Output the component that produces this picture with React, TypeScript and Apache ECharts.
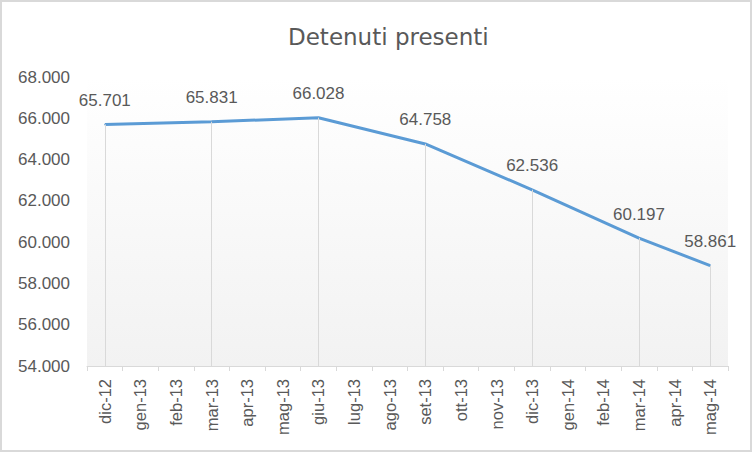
import React, { useEffect, useRef } from "react";
import * as echarts from "echarts";

const categories = [
  "dic-12", "gen-13", "feb-13", "mar-13", "apr-13", "mag-13", "giu-13", "lug-13", "ago-13",
  "set-13", "ott-13", "nov-13", "dic-13", "gen-14", "feb-14", "mar-14", "apr-14", "mag-14",
];
const detenuti: (number | null)[] = [
  65701, null, null, 65831, null, null, 66028, null, null,
  64758, null, null, 62536, null, null, 60197, null, 58861,
];
const yMin = 54000;
const yMax = 68000;
const yStep = 2000;

const fmt = (v: number) => {
  const t = Math.floor(v / 1000);
  const r = String(Math.round(v % 1000)).padStart(3, "0");
  return `${t}.${r}`;
};

const FONT = "Liberation Sans";
const TXT = "#595959";

export default function App() {
  const ref = useRef<HTMLDivElement>(null);
  useEffect(() => {
    document.body.style.margin = "0";
    const chart = echarts.init(ref.current!, undefined, { renderer: "svg" });
    const drops = detenuti
      .map((v, i) =>
        v == null ? null : [{ coord: [categories[i], yMin] }, { coord: [categories[i], v] }]
      )
      .filter((d) => d != null);
    chart.setOption({
      animation: false,
      backgroundColor: "#ffffff",
      textStyle: { fontFamily: FONT },
      title: {
        text: "Detenuti presenti",
        left: 283,
        top: 20,
        textStyle: { fontSize: 23, fontWeight: "normal", color: TXT, fontFamily: "DejaVu Sans" },
      },
      graphic: [
        {
          type: "rect",
          shape: { x: 1, y: 1, width: 750, height: 450 },
          style: { fill: "none", stroke: "#d9d9d9", lineWidth: 2 },
          silent: true,
          z: 100,
        },
      ],
      grid: {
        left: 87,
        right: 24,
        top: 77,
        bottom: 86,
        show: true,
        borderWidth: 0,
        backgroundColor: new echarts.graphic.LinearGradient(0, 0, 0, 1, [
          { offset: 0, color: "#ffffff" },
          { offset: 1, color: "#f2f2f2" },
        ]),
      },
      xAxis: {
        type: "category",
        data: categories,
        boundaryGap: true,
        axisLine: { lineStyle: { color: "#d9d9d9", width: 1 } },
        axisTick: { show: true, length: 5, alignWithLabel: false, lineStyle: { color: "#d9d9d9" } },
        axisLabel: { rotate: 90, color: TXT, fontSize: 16.5, margin: 13, fontFamily: FONT, interval: 0 },
        splitLine: { show: false },
      },
      yAxis: {
        type: "value",
        min: yMin,
        max: yMax,
        interval: yStep,
        axisLine: { show: false },
        axisTick: { show: false },
        splitLine: { show: false },
        axisLabel: { color: TXT, fontSize: 17, margin: 17, fontFamily: FONT, formatter: (v: number) => fmt(v) },
      },
      series: [
        {
          type: "line",
          data: [],
          z: 1,
          silent: true,
          markLine: {
            symbol: "none",
            silent: true,
            label: { show: false },
            lineStyle: { color: "#d9d9d9", width: 1, type: "solid" },
            data: drops,
          },
        },
        {
          type: "line",
          data: detenuti,
          connectNulls: true,
          z: 3,
          showSymbol: true,
          symbol: "circle",
          symbolSize: 1,
          itemStyle: { color: "#5b9bd5" },
          lineStyle: { color: "#5b9bd5", width: 3 },
          label: {
            show: true,
            position: "top",
            distance: 15,
            color: TXT,
            fontSize: 17,
            fontFamily: FONT,
            formatter: (p: any) => fmt(p.value),
          },
        },
      ],
    });
    return () => chart.dispose();
  }, []);
  return <div ref={ref} style={{ width: 752, height: 452 }} />;
}
